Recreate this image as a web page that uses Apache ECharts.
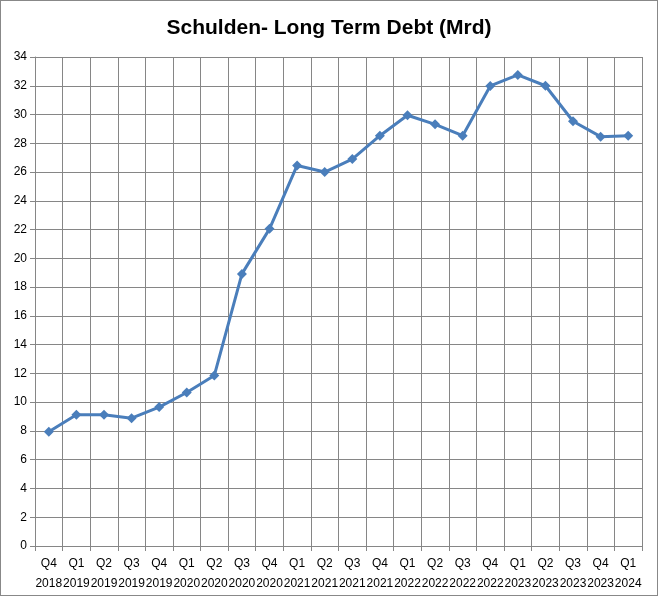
<!DOCTYPE html>
<html><head><meta charset="utf-8">
<script src="https://cdn.jsdelivr.net/npm/echarts@6/dist/echarts.min.js"></script>
<style>html,body{margin:0;padding:0;background:#fff}#c{width:658px;height:596px;box-sizing:border-box;border:1px solid #888}</style>
</head><body><div id="c"></div>
<script>
const quarters = ["Q4","Q1","Q2","Q3","Q4","Q1","Q2","Q3","Q4","Q1","Q2","Q3","Q4","Q1","Q2","Q3","Q4","Q1","Q2","Q3","Q4","Q1"];
const years = ["2018","2019","2019","2019","2019","2020","2020","2020","2020","2021","2021","2021","2021","2022","2022","2022","2022","2023","2023","2023","2023","2024"];
const debt = [7.94,9.12,9.12,8.89,9.66,10.67,11.86,18.92,22.05,26.46,26.0,26.9,28.53,29.95,29.32,28.53,31.99,32.75,32.0,29.53,28.46,28.53];
const categories = quarters.map((q,i)=>q+"\n"+years[i]);
const chart = echarts.init(document.getElementById('c'));
const font = "'Liberation Sans', Arial, sans-serif";
chart.setOption({
  animation:false,
  title:{text:"Schulden- Long Term Debt (Mrd)",left:'center',top:12,
    textStyle:{fontFamily:font,fontSize:21,fontWeight:'bold',color:'#000'}},
  grid:{left:34,right:15,top:56,bottom:49,containLabel:false},
  xAxis:{type:'category',data:categories,boundaryGap:true,
    axisLine:{lineStyle:{color:'#868686',width:1}},
    axisTick:{show:true,length:5,lineStyle:{color:'#868686'}},
    splitLine:{show:true,interval:0,lineStyle:{color:'#868686',width:1}},
    axisLabel:{interval:0,fontFamily:font,fontSize:12,color:'#000',lineHeight:20,margin:8}},
  yAxis:{type:'value',min:0,max:34,interval:2,
    axisLine:{show:true,lineStyle:{color:'#868686'}},
    axisTick:{show:true,length:5,lineStyle:{color:'#868686'}},
    splitLine:{show:true,lineStyle:{color:'#868686',width:1}},
    axisLabel:{fontFamily:font,fontSize:12,color:'#000',margin:8}},
  series:[{type:'line',data:debt,symbol:'diamond',symbolSize:10,
    lineStyle:{color:'#4a7ebb',width:3},itemStyle:{color:'#4a7ebb'}}]
});
</script></body></html>
